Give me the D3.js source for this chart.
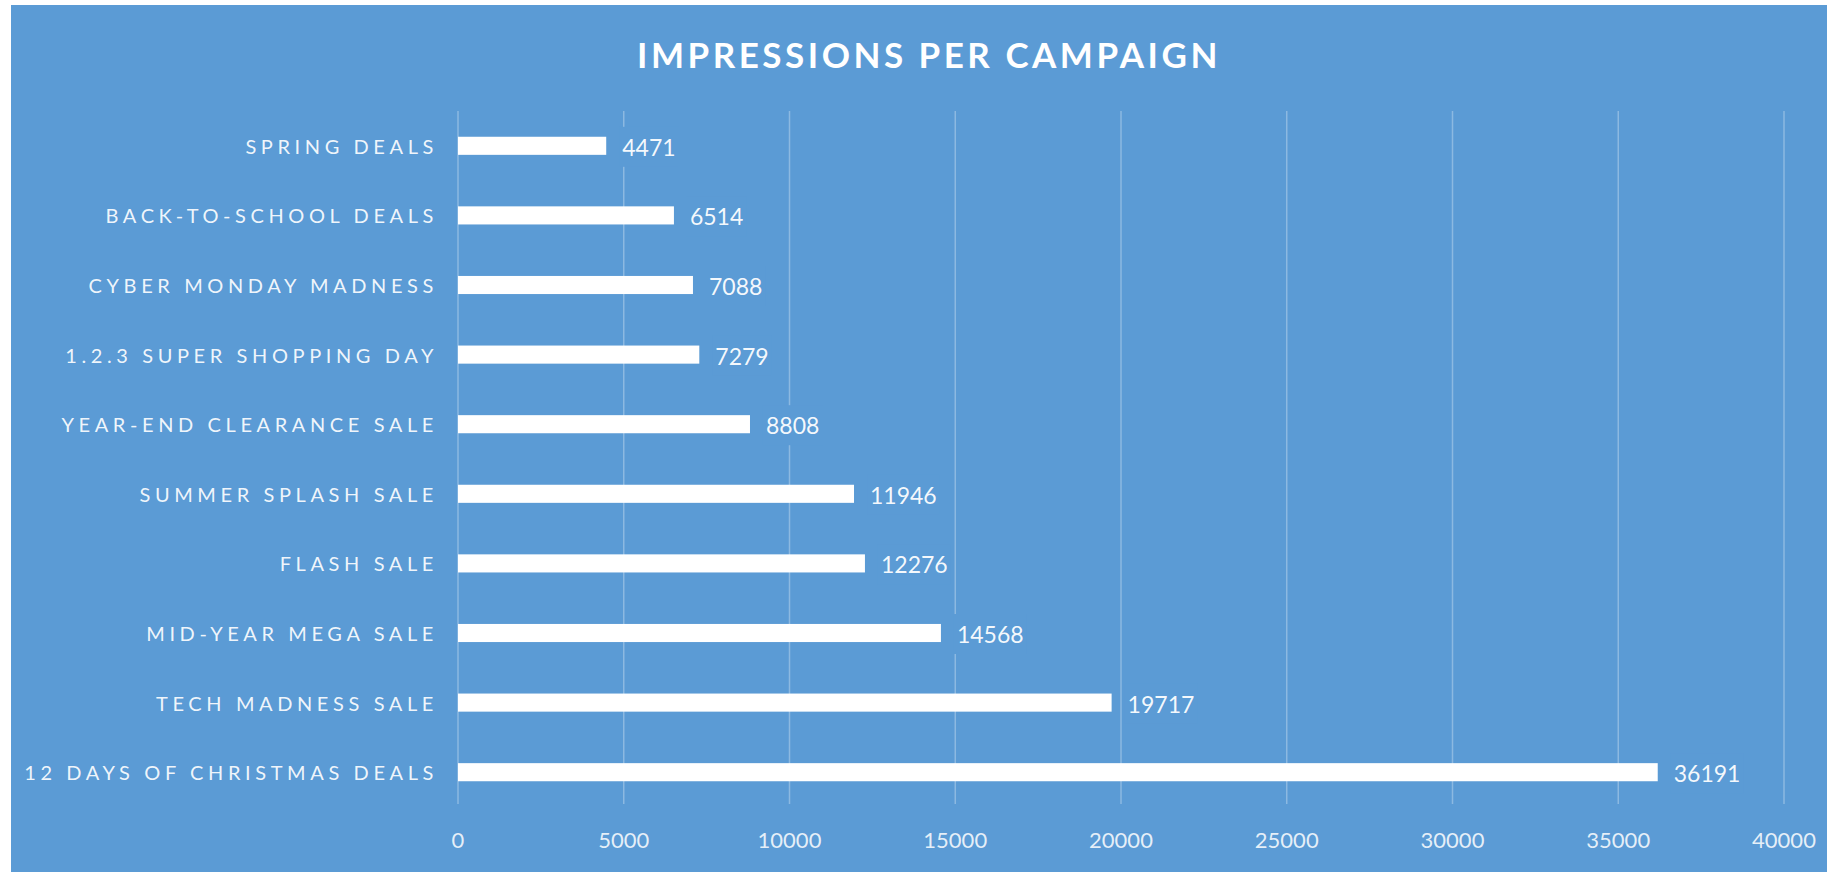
<!DOCTYPE html>
<html>
<head>
<meta charset="utf-8">
<script src="https://cdn.jsdelivr.net/npm/d3@7"></script>
<style>
  body { margin: 0; background: #fff; }
  svg text { font-family: Lato, "Open Sans", sans-serif; }
</style>
</head>
<body>
<script>
// campaigns, top to bottom
var campaigns = ["Spring Deals", "Back-to-School Deals", "Cyber Monday Madness",
  "1.2.3 Super Shopping Day", "Year-End Clearance Sale", "Summer Splash Sale",
  "Flash Sale", "Mid-Year Mega Sale", "Tech Madness Sale", "12 Days of Christmas Deals"];
var impressions = [4471, 6514, 7088, 7279, 8808, 11946, 12276, 14568, 19717, 36191];
var xTicks = [0, 5000, 10000, 15000, 20000, 25000, 30000, 35000, 40000];

var width = 1827, height = 872;
var bg = "#5b9bd5";
var margin = {top: 111, right: 43, bottom: 68, left: 458};

var data = campaigns.map(function(c, i) { return {name: c, value: impressions[i]}; });

var svg = d3.select("body").append("svg")
    .attr("width", width)
    .attr("height", height);

svg.append("rect")
    .attr("x", 11).attr("y", 5)
    .attr("width", width - 11).attr("height", height - 5)
    .attr("fill", bg);

var x = d3.scaleLinear().domain([0, 40000]).range([margin.left, width - margin.right]);
var y = d3.scaleBand().domain(campaigns)
    .range([margin.top, height - margin.bottom + 3])
    .paddingInner(0.74).paddingOuter(0.37);

// gridlines
svg.append("g").selectAll("line")
    .data(xTicks)
    .enter().append("line")
    .attr("x1", function(d) { return x(d); })
    .attr("x2", function(d) { return x(d); })
    .attr("y1", margin.top)
    .attr("y2", height - margin.bottom)
    .attr("stroke", "rgba(255,255,255,0.3)")
    .attr("stroke-width", 1.5);

// x axis labels
svg.append("g").selectAll("text")
    .data(xTicks)
    .enter().append("text")
    .attr("x", function(d) { return x(d); })
    .attr("y", 839)
    .attr("text-anchor", "middle")
    .attr("dominant-baseline", "central")
    .attr("fill", "rgba(255,255,255,0.85)")
    .style("font-size", "22px")
    .text(function(d) { return d; });

// category labels
svg.append("g").selectAll("text")
    .data(campaigns)
    .enter().append("text")
    .attr("x", margin.left - 20)
    .attr("y", function(d) { return y(d) + y.bandwidth() / 2; })
    .attr("text-anchor", "end")
    .attr("dominant-baseline", "central")
    .attr("fill", "rgba(255,255,255,0.92)")
    .style("font-size", "20px")
    .style("letter-spacing", "4.6px")
    .text(function(d) { return d.toUpperCase(); });

// bars
svg.append("g").selectAll("rect")
    .data(data)
    .enter().append("rect")
    .attr("x", x(0))
    .attr("y", function(d) { return y(d.name); })
    .attr("width", function(d) { return x(d.value) - x(0); })
    .attr("height", y.bandwidth())
    .attr("fill", "#fff");

// value labels, with a patch of background behind them
var lab = svg.append("g").selectAll("g")
    .data(data)
    .enter().append("g")
    .attr("transform", function(d) {
      return "translate(" + (x(d.value) + 16) + "," + (y(d.name) + y.bandwidth() / 2 + 1) + ")";
    });

lab.append("text")
    .attr("dominant-baseline", "central")
    .attr("fill", "rgba(255,255,255,0.95)")
    .style("font-size", "23px")
    .text(function(d) { return d.value; });

lab.each(function() {
  var g = d3.select(this);
  var bb = g.select("text").node().getBBox();
  g.insert("rect", "text")
    .attr("x", bb.x - 3).attr("y", bb.y - 6)
    .attr("width", bb.width + 6).attr("height", bb.height + 12)
    .attr("fill", bg);
});

// title
svg.append("text")
    .attr("x", 929)
    .attr("y", 54)
    .attr("text-anchor", "middle")
    .attr("dominant-baseline", "central")
    .attr("fill", "#fff")
    .style("font-size", "35px")
    .style("font-weight", "bold")
    .style("letter-spacing", "3.5px")
    .text("IMPRESSIONS PER CAMPAIGN");
</script>
</body>
</html>
